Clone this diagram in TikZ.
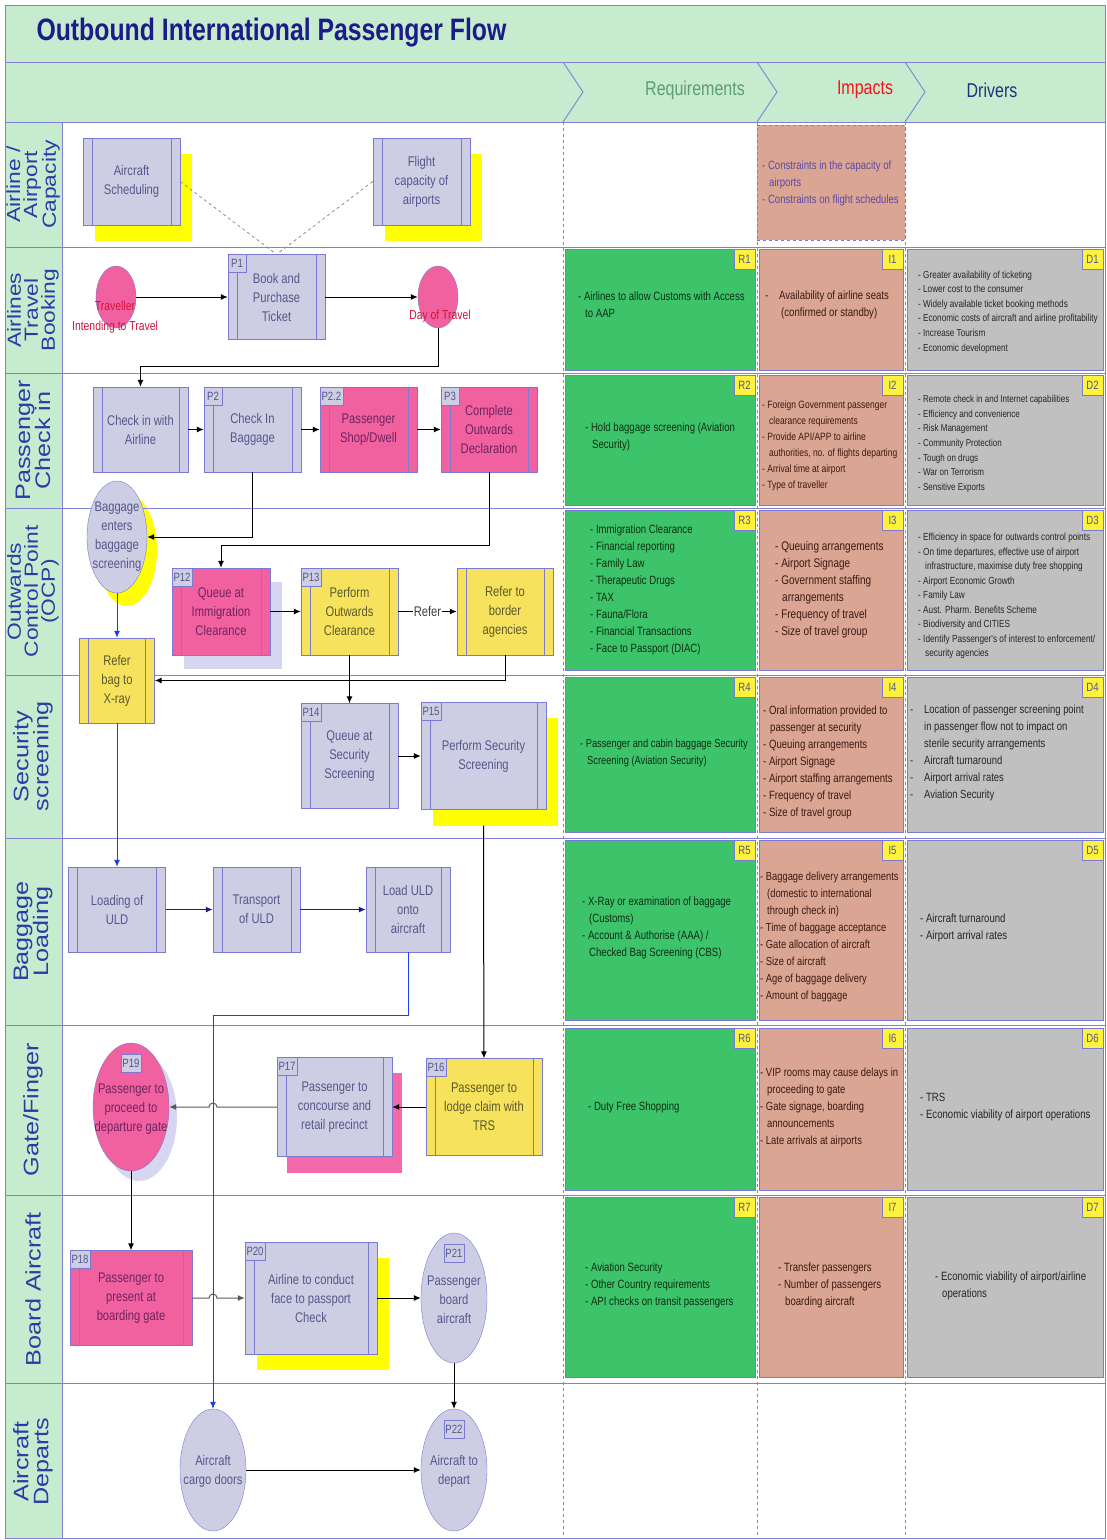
\documentclass[tikz,border=0pt]{standalone}
\usepackage{fontspec}
\setmainfont{Liberation Sans}
\newfontfamily\narrowfont{Liberation Sans}[FakeStretch=0.8]
\usetikzlibrary{shapes.geometric,arrows.meta,backgrounds}

\definecolor{bandgreen}{HTML}{C6EBCF}
\definecolor{lanecol}{HTML}{8080D8}
\definecolor{boxline}{HTML}{7A7AD2}
\definecolor{boxgrey}{HTML}{CDCEE4}
\definecolor{boxpink}{HTML}{F2619F}
\definecolor{boxyellow}{HTML}{F6E25C}
\definecolor{shadowyellow}{HTML}{FFFF00}
\definecolor{shadowlilac}{HTML}{D6D6F0}
\definecolor{shadowpink}{HTML}{F46AA8}
\definecolor{reqgreen}{HTML}{3DC46B}
\definecolor{imptan}{HTML}{DAA592}
\definecolor{drvgrey}{HTML}{C0C0C0}
\definecolor{tagyellow}{HTML}{FFF23C}
\definecolor{titlenavy}{HTML}{1C1C88}
\definecolor{lanetext}{HTML}{2A3DA6}
\definecolor{reqhead}{HTML}{5E9E74}
\definecolor{imphead}{HTML}{F01818}
\definecolor{drvhead}{HTML}{26307A}
\definecolor{boxtext}{HTML}{55578A}
\definecolor{pinktext}{HTML}{6E2462}
\definecolor{yellowtext}{HTML}{5C5A2C}
\definecolor{redlabel}{HTML}{D0143C}
\definecolor{bagblue}{HTML}{1E3CF0}
\definecolor{uldnavy}{HTML}{1A1A8A}
\definecolor{reqtext}{HTML}{0E2E12}
\definecolor{imptext}{HTML}{3B1A12}
\definecolor{drvtext}{HTML}{262626}
\definecolor{capviolet}{HTML}{5B4AA8}

\newcommand{\ind}{\hspace*{7pt}}
\newcommand{\dashitem}{\makebox[14pt][l]{-}}

\tikzset{
  laneline/.style={draw=lanecol, line width=0.9pt},
  proc/.style={rectangle, draw=boxline, fill=boxgrey, text=boxtext, align=center, inner sep=1pt,
    font=\narrowfont\fontsize{14}{19}\selectfont,
    path picture={\draw[boxline]
      ([xshift=9pt]path picture bounding box.north west) -- ([xshift=9pt]path picture bounding box.south west)
      ([xshift=-9pt]path picture bounding box.north east) -- ([xshift=-9pt]path picture bounding box.south east);}},
  pinkproc/.style={proc, fill=boxpink, text=pinktext},
  yellowproc/.style={proc, fill=boxyellow, text=yellowtext},
  ptag/.style={rectangle, draw=boxline, fill=boxgrey, text=boxtext, inner sep=1.5pt, minimum width=18pt, minimum height=18pt, font=\narrowfont\fontsize{12}{12}\selectfont},
  oval/.style={ellipse, draw=boxline, fill=boxgrey, inner sep=0pt},
  ovaltext/.style={align=center, text=boxtext, font=\narrowfont\fontsize{14}{19}\selectfont},
  redlab/.style={align=center, text=redlabel, font=\narrowfont\fontsize{13}{20}\selectfont},
  lanelab/.style={rotate=90, xscale=1.2, align=center, text=lanetext, font=\fontsize{19}{17}\selectfont},
  cellbox/.style={rectangle, draw=boxline, inner sep=0pt},
  celltag/.style={rectangle, draw=boxline, fill=tagyellow, text=boxtext, anchor=north east, minimum width=21pt, minimum height=20pt, inner sep=0pt, font=\narrowfont\fontsize{12}{12}\selectfont},
  celltext/.style={anchor=west, align=left, inner sep=0pt, font=\narrowfont\fontsize{12}{17}\selectfont},
  flow/.style={->, black, line width=1pt},
  greyflow/.style={->, draw=black!65, line width=1pt},
  bagflow/.style={->, draw=bagblue, line width=1pt},
  uldflow/.style={->, draw=uldnavy, line width=1.2pt},
  dashline/.style={draw=black!45, dashed, line width=0.8pt},
}

\begin{document}
\begin{tikzpicture}[x=1pt,y=-1pt,>={Latex[length=7pt,width=6pt]}]
\useasboundingbox (0,0) rectangle (1107,1540);

\fill[bandgreen] (5,5) rectangle (1105,122);
\fill[bandgreen] (5,122) rectangle (62,1538);
\draw[laneline] (5,5) rectangle (1105,1538);
\draw[laneline] (5,62) -- (1105,62);
\draw[laneline] (5,122) -- (1105,122);
\foreach \y in {247,373,508,675,838,1025,1195,1383}
  \draw[laneline] (5,\y) -- (1105,\y);
\draw[laneline] (62,122) -- (62,1538);
\foreach \x in {563,757,905}{
  \draw[laneline,dashed] (\x,122) -- (\x,1538);
  \draw[laneline] (\x,62) -- ({\x+20},92) -- (\x,122);
}

\node[anchor=west, text=titlenavy, font=\narrowfont\bfseries\fontsize{31}{31}\selectfont] (title) at (33,33) {Outbound International Passenger Flow};
\node[text=reqhead, font=\narrowfont\fontsize{20}{20}\selectfont] (hreq) at (695,90) {Requirements};
\node[text=imphead, font=\narrowfont\fontsize{20}{20}\selectfont] (himp) at (865,90) {Impacts};
\node[text=drvhead, font=\narrowfont\fontsize{20}{20}\selectfont] (hdrv) at (992,90) {Drivers};

\node[lanelab] (lane1) at (33,184.5) {Airline /\\Airport\\Capacity};
\node[lanelab] (lane2) at (33,310) {Airlines\\Travel\\Booking};
\node[lanelab, font=\fontsize{21}{20}\selectfont] (lane3) at (33,440.5) {Passenger\\Check in};
\node[lanelab] (lane4) at (33,591.5) {Outwards\\Control Point\\(OCP)};
\node[lanelab, font=\fontsize{21}{20}\selectfont] (lane5) at (33,756.5) {Security\\screening};
\node[lanelab, font=\fontsize{21}{20}\selectfont] (lane6) at (33,931.5) {Baggage\\Loading};
\node[lanelab, font=\fontsize{21}{20}\selectfont] (lane7) at (33,1110) {Gate/Finger};
\node[lanelab, font=\fontsize{21}{20}\selectfont] (lane8) at (33,1289) {Board Aircraft};
\node[lanelab, font=\fontsize{21}{20}\selectfont] (lane9) at (33,1461.5) {Aircraft\\Departs};

% flow boxes
\node[proc, minimum width=97pt, minimum height=87pt] (sched) at (131.5,181.5) {Aircraft\\Scheduling};
\node[proc, minimum width=97pt, minimum height=87pt] (flight) at (421.5,181.5) {Flight\\capacity of\\airports};

\node[oval, fill=boxpink, minimum width=40pt, minimum height=62pt] (trav) at (116,297) {};
\node[redlab] (travtxt) at (115,317) {Traveller\\Intending to Travel};
\node[proc, minimum width=97pt, minimum height=85pt] (p1) at (276.5,297) {Book and\\Purchase\\Ticket};
\node[oval, fill=boxpink, minimum width=40pt, minimum height=62pt] (day) at (438,297) {};
\node[redlab] (daytxt) at (440,316) {Day of Travel};

\node[proc, minimum width=95pt, minimum height=85pt] (chk) at (140.5,429.5) {Check in with\\Airline};
\node[proc, minimum width=97pt, minimum height=85pt] (p2) at (252.5,429.5) {Check In\\Baggage};
\node[pinkproc, minimum width=97pt, minimum height=85pt] (shop) at (368.5,429.5) {Passenger\\Shop/Dwell};
\node[pinkproc, minimum width=96pt, minimum height=85pt] (p3) at (489,429.5) {Complete\\Outwards\\Declaration};

\node[oval, minimum width=60pt, minimum height=112pt] (bag) at (117,537) {};
\node[ovaltext] (bagtxt) at (117,537) {Baggage\\enters\\baggage\\screening};
\node[pinkproc, minimum width=98pt, minimum height=87pt] (p12) at (221,611.5) {Queue at\\Immigration\\Clearance};
\node[yellowproc, minimum width=97pt, minimum height=87pt] (p13) at (349.5,611.5) {Perform\\Outwards\\Clearance};
\node[yellowproc, minimum width=96pt, minimum height=87pt] (border) at (505,611.5) {Refer to\\border\\agencies};
\node[yellowproc, minimum width=75pt, minimum height=85pt] (xray) at (117,680.5) {Refer\\bag to\\X-ray};

\node[proc, minimum width=97pt, minimum height=105pt] (p14) at (349.5,756) {Queue at\\Security\\Screening};
\node[proc, minimum width=125pt, minimum height=107pt] (p15) at (483.5,756) {Perform Security\\Screening};

\node[proc, minimum width=97pt, minimum height=85pt] (uld1) at (117,909.5) {Loading of\\ULD};
\node[proc, minimum width=87pt, minimum height=85pt] (uld2) at (256.5,909.5) {Transport\\of ULD};
\node[proc, minimum width=84pt, minimum height=85pt] (uld3) at (408,909.5) {Load ULD\\onto\\aircraft};

\node[oval, fill=boxpink, minimum width=76pt, minimum height=128pt] (p19) at (131,1107) {};
\node[ovaltext, text=pinktext] (p19txt) at (131,1109) {Passenger to\\proceed to\\departure gate};
\node[proc, minimum width=115pt, minimum height=99pt] (p17) at (334.5,1107) {Passenger to\\concourse and\\retail precinct};
\node[yellowproc, minimum width=116pt, minimum height=97pt] (p16) at (484,1107) {Passenger to\\lodge claim with\\TRS};

\node[pinkproc, minimum width=122pt, minimum height=95pt] (p18) at (131,1298) {Passenger to\\present at\\boarding gate};
\node[proc, minimum width=132pt, minimum height=112pt] (p20) at (311,1298) {Airline to conduct\\face to passport\\Check};
\node[oval, minimum width=66pt, minimum height=130pt] (p21) at (454,1298) {};
\node[ovaltext] (p21txt) at (454,1300) {Passenger\\board\\aircraft};

\node[oval, minimum width=66pt, minimum height=122pt] (cargo) at (213,1470) {};
\node[ovaltext] (cargotxt) at (213,1471) {Aircraft\\cargo doors};
\node[oval, minimum width=66pt, minimum height=122pt] (p22) at (454,1470) {};
\node[ovaltext] (p22txt) at (454,1471) {Aircraft to\\depart};

\node[ptag, anchor=north west] (t1) at (p1.north west) {P1};
\node[ptag, anchor=north west] (t2) at (p2.north west) {P2};
\node[ptag, anchor=north west] (t22) at (shop.north west) {P2.2};
\node[ptag, anchor=north west] (t3) at (p3.north west) {P3};
\node[ptag, anchor=north west] (t12) at (p12.north west) {P12};
\node[ptag, anchor=north west] (t13) at (p13.north west) {P13};
\node[ptag, anchor=north west] (t14) at (p14.north west) {P14};
\node[ptag, anchor=north west] (t15) at (p15.north west) {P15};
\node[ptag, anchor=north west] (t16) at (p16.north west) {P16};
\node[ptag, anchor=north west] (t17) at (p17.north west) {P17};
\node[ptag, anchor=north west] (t18) at (p18.north west) {P18};
\node[ptag, anchor=north west] (t20) at (p20.north west) {P20};
\node[ptag] (t19) at (131,1063) {P19};
\node[ptag] (t21) at (454,1253) {P21};
\node[ptag] (t22b) at (454,1429) {P22};

\begin{scope}[on background layer]
\fill[shadowyellow] ([shift={(12,16)}]sched.north west) rectangle ([shift={(12,16)}]sched.south east);
\fill[shadowyellow] ([shift={(12,16)}]flight.north west) rectangle ([shift={(12,16)}]flight.south east);
\fill[shadowyellow] ([shift={(10,13)}]bag.center) ellipse [x radius=30, y radius=56];
\fill[shadowlilac] ([shift={(12,14)}]p12.north west) rectangle ([shift={(12,14)}]p12.south east);
\fill[shadowyellow] ([shift={(12,16)}]p15.north west) rectangle ([shift={(12,16)}]p15.south east);
\fill[shadowlilac] ([shift={(8,10)}]p19.center) ellipse [x radius=38, y radius=64];
\fill[shadowpink] ([shift={(10,16)}]p17.north west) rectangle ([shift={(10,16)}]p17.south east);
\fill[shadowyellow] ([shift={(12,16)}]p20.north west) rectangle ([shift={(12,16)}]p20.south east);
\end{scope}

\coordinate (hopa) at (217,1107);
\coordinate (hopb) at (209,1298);

\draw[dashline] (sched.east) -- (p1.north);
\draw[dashline] (flight.west) -- (p1.north);
\draw[flow] (trav) -- (p1);
\draw[flow] (p1) -- (day);
\draw[flow] (day.south) -- ++(0,38) -| (chk.north);
\draw[flow] (chk) -- (p2);
\draw[flow] (p2) -- (shop);
\draw[flow] (shop) -- (p3);
\draw[flow] (p2.south) |- (bag.east);
\draw[flow] (p3.south) -- ++(0,73) -| (p12.north);
\draw[bagflow] (bag) -- (xray);
\draw[flow] (p12) -- (p13);
\draw[flow] (p13) -- node[fill=white, inner sep=1pt, text=black!75, font=\narrowfont\fontsize{14}{14}\selectfont] (refer) {Refer} (border);
\draw[flow] (border.south) |- (xray.east);
\draw[flow] (p13) -- (p14);
\draw[flow] (p14) -- (p15);
\draw[flow] ([yshift=-16pt]p15.south) -- (p16);
\draw[bagflow] (xray) -- (uld1);
\draw[uldflow] (uld1) -- (uld2);
\draw[uldflow] (uld2) -- (uld3);
\draw[bagflow] (uld3.south) -- ++(0,63) -| (cargo.north);
\draw[flow] (p16) -- (p17);
\draw[greyflow] (p17.west) -- (hopa) arc[start angle=0, end angle=-180, radius=4] -- (p19.east);
\draw[flow] (p19) -- (p18);
\draw[greyflow] (p18.east) -- (hopb) arc[start angle=180, end angle=360, radius=4] -- (p20.west);
\draw[flow] (p20) -- (p21);
\draw[flow] (p21) -- (p22);
\draw[flow] (cargo) -- (p22);

% requirements, impacts, drivers
\node[cellbox, dashed, fill=imptan, minimum width=148pt, minimum height=115pt] (i0) at (831,182.5) {};
\node[celltext, text=capviolet] (i0txt) at (762,183) {- Constraints in the capacity of\\\ind airports\\- Constraints on flight schedules};

\foreach \n/\yt/\yb in {1/249/370,2/375/505,3/510/670,4/677/832,5/840/1020,6/1028/1190,7/1197/1377}{
  \node[cellbox, fill=reqgreen, minimum width=190pt, minimum height={\yb-\yt}] (r\n) at (660,{(\yt+\yb)/2}) {};
  \node[cellbox, fill=imptan, minimum width=144pt, minimum height={\yb-\yt}] (i\n) at (831,{(\yt+\yb)/2}) {};
  \node[cellbox, fill=drvgrey, minimum width=196pt, minimum height={\yb-\yt}] (d\n) at (1005,{(\yt+\yb)/2}) {};
  \node[celltag] (rt\n) at (r\n.north east) {R\n};
  \node[celltag] (it\n) at (i\n.north east) {I\n};
  \node[celltag] (dt\n) at (d\n.north east) {D\n};
}

\node[celltext, text=reqtext] (r1txt) at (578,305) {- Airlines to allow Customs with Access\\\ind to AAP};
\node[celltext, text=imptext] (i1txt) at (765,305) {\dashitem Availability of airline seats\\\hspace*{16pt}(confirmed or standby)};
\node[celltext, text=drvtext, font=\narrowfont\fontsize{10.2}{14.6}\selectfont] (d1txt) at (918,312) {- Greater availability of ticketing\\- Lower cost to the consumer\\- Widely available ticket booking methods\\- Economic costs of aircraft and airline profitability\\- Increase Tourism\\- Economic development};

\node[celltext, text=reqtext] (r2txt) at (585,437) {- Hold baggage screening (Aviation\\\ind Security)};
\node[celltext, text=imptext, font=\narrowfont\fontsize{10.6}{16}\selectfont] (i2txt) at (762,446) {- Foreign Government passenger\\\ind clearance requirements\\- Provide API/APP to airline\\\ind authorities, no. of flights departing\\- Arrival time at airport\\- Type of traveller};
\node[celltext, text=drvtext, font=\narrowfont\fontsize{10}{14.7}\selectfont] (d2txt) at (918,444) {- Remote check in and Internet capabilities\\- Efficiency and convenience\\- Risk Management\\- Community Protection\\- Tough on drugs\\- War on Terrorism\\- Sensitive Exports};

\node[celltext, text=reqtext] (r3txt) at (590,590) {- Immigration Clearance\\- Financial reporting\\- Family Law\\- Therapeutic Drugs\\- TAX\\- Fauna/Flora\\- Financial Transactions\\- Face to Passport (DIAC)};
\node[celltext, text=imptext, font=\narrowfont\fontsize{12.5}{17}\selectfont] (i3txt) at (775,590) {- Queuing arrangements\\- Airport Signage\\- Government staffing\\\ind arrangements\\- Frequency of travel\\- Size of travel group};
\node[celltext, text=drvtext, font=\narrowfont\fontsize{10.3}{14.5}\selectfont] (d3txt) at (918,596) {- Efficiency in space for outwards control points\\- On time departures, effective use of airport\\\ind infrastructure, maximise duty free shopping\\- Airport Economic Growth\\- Family Law\\- Aust. Pharm. Benefits Scheme\\- Biodiversity and CITIES\\- Identify Passenger's of interest to enforcement/\\\ind security agencies};

\node[celltext, text=reqtext, font=\narrowfont\fontsize{11.6}{17}\selectfont] (r4txt) at (580,753) {- Passenger and cabin baggage Security\\\ind Screening (Aviation Security)};
\node[celltext, text=imptext] (i4txt) at (763,762) {- Oral information provided to\\\ind passenger at security\\- Queuing arrangements\\- Airport Signage\\- Airport staffing arrangements\\- Frequency of travel\\- Size of travel group};
\node[celltext, text=drvtext, font=\narrowfont\fontsize{11.8}{17}\selectfont] (d4txt) at (910,753) {\dashitem Location of passenger screening point\\\hspace*{14pt}in passenger flow not to impact on\\\hspace*{14pt}sterile security arrangements\\\dashitem Aircraft turnaround\\\dashitem Airport arrival rates\\\dashitem Aviation Security};

\node[celltext, text=reqtext] (r5txt) at (582,928) {- X-Ray or examination of baggage\\\ind (Customs)\\- Account \& Authorise (AAA) /\\\ind Checked Bag Screening (CBS)};
\node[celltext, text=imptext, font=\narrowfont\fontsize{11.7}{17.1}\selectfont] (i5txt) at (760,937) {- Baggage delivery arrangements\\\ind (domestic to international\\\ind through check in)\\- Time of baggage acceptance\\- Gate allocation of aircraft\\- Size of aircraft\\- Age of baggage delivery\\- Amount of baggage};
\node[celltext, text=drvtext] (d5txt) at (920,928) {- Aircraft turnaround\\- Airport arrival rates};

\node[celltext, text=reqtext] (r6txt) at (588,1107) {- Duty Free Shopping};
\node[celltext, text=imptext, font=\narrowfont\fontsize{11.8}{17}\selectfont] (i6txt) at (760,1107) {- VIP rooms may cause delays in\\\ind proceeding to gate\\- Gate signage, boarding\\\ind announcements\\- Late arrivals at airports};
\node[celltext, text=drvtext] (d6txt) at (920,1107) {- TRS\\- Economic viability of airport operations};

\node[celltext, text=reqtext] (r7txt) at (585,1285) {- Aviation Security\\- Other Country requirements\\- API checks on transit passengers};
\node[celltext, text=imptext] (i7txt) at (778,1285) {- Transfer passengers\\- Number of passengers\\\ind boarding aircraft};
\node[celltext, text=drvtext] (d7txt) at (935,1286) {- Economic viability of airport/airline\\\ind operations};

\end{tikzpicture}
\end{document}
